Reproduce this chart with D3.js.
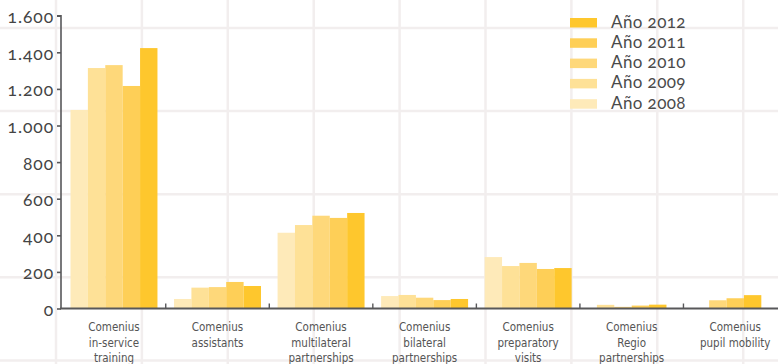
<!DOCTYPE html>
<html>
<head>
<meta charset="utf-8">
<script src="https://cdn.jsdelivr.net/npm/d3@7"></script>
<style>
  html, body { margin: 0; padding: 0; background: #ffffff; }
  svg { display: block; }
  .ylab { font-family: Lato, "Open Sans", sans-serif; font-size: 17.5px; fill: #444444; font-feature-settings: "onum" 1; letter-spacing: 0.9px; }
  .leg { font-family: Lato, "Open Sans", sans-serif; font-size: 17px; fill: #4a4a4a; font-feature-settings: "onum" 1; letter-spacing: 0.4px; }
  .xlab { font-family: "Liberation Sans Narrow", "DejaVu Sans Condensed", sans-serif; font-size: 11.5px; fill: #555555; }
</style>
</head>
<body>
<svg id="chart" width="778" height="364"></svg>
<script>
// ---- data ----
const categories = [
  ["Comenius", "in-service", "training"],
  ["Comenius", "assistants"],
  ["Comenius", "multilateral", "partnerships"],
  ["Comenius", "bilateral", "partnerships"],
  ["Comenius", "preparatory", "visits"],
  ["Comenius", "Regio", "partnerships"],
  ["Comenius", "pupil mobility"]
];
const seriesNames = ["Año 2008", "Año 2009", "Año 2010", "Año 2011", "Año 2012"];
const s2008 = [1085, 52, 414, 68, 281, null, null];
const s2009 = [1314, 114, 456, 74, 232, 20, null];
const s2010 = [1330, 117, 507, 59, 249, 9, 45];
const s2011 = [1216, 145, 495, 46, 216, 16, 56];
const s2012 = [1423, 123, 522, 52, 221, 21, 73];
const yTicks = [0, 200, 400, 600, 800, 1000, 1200, 1400, 1600];

const seriesValues = [s2008, s2009, s2010, s2011, s2012];
const colors = ["#feeab9", "#fee197", "#fed87a", "#fecf57", "#fec72d"];

// ---- layout ----
const svg = d3.select("#chart");
const W = 778, H = 364;

// background grid
const gridColor = "#f2eeee";
const bg = svg.append("g");
d3.range(56, W + 1, 85.9).forEach(x => {
  bg.append("line").attr("x1", x).attr("x2", x).attr("y1", 0).attr("y2", H)
    .attr("stroke", gridColor).attr("stroke-width", 2.5);
});
d3.range(28, H + 1, 83.1).forEach(y => {
  bg.append("line").attr("x1", 0).attr("x2", W).attr("y1", y).attr("y2", y)
    .attr("stroke", gridColor).attr("stroke-width", 2.5);
});

const y = d3.scaleLinear().domain([0, 1600]).range([308.5, 15.7]);
const x0 = d3.scaleBand().domain(d3.range(categories.length)).range([62.2, 787]).paddingInner(0).paddingOuter(0);
const barW = x0.bandwidth() * 0.168;

// bars
const bars = svg.append("g");
categories.forEach((c, i) => {
  const present = seriesValues.map((s, k) => ({k, v: s[i]})).filter(d => d.v != null);
  const cx = x0(i) + x0.bandwidth() / 2;
  const x1 = d3.scaleBand().domain(d3.range(present.length))
    .range([cx - present.length * barW / 2, cx + present.length * barW / 2]);
  bars.selectAll(null).data(present).enter().append("rect")
    .attr("x", (d, j) => x1(j))
    .attr("width", x1.bandwidth())
    .attr("y", d => y(d.v))
    .attr("height", d => y(0) - y(d.v))
    .attr("fill", d => colors[d.k]);
});

const axisColor = "#58585a";
const loc = d3.formatLocale({decimal: ",", thousands: ".", grouping: [3], currency: ["", "€"]});
const fmt = loc.format(",d");

// y axis
const yAxis = svg.append("g").attr("transform", "translate(61,0)")
  .call(d3.axisLeft(y).tickValues(yTicks).tickSize(4).tickPadding(3).tickFormat(fmt));
yAxis.select(".domain").attr("stroke", axisColor).attr("stroke-width", 1.6).attr("d", `M-4,${y(1600)}H0V${y(0)}`);
yAxis.selectAll(".tick line").attr("stroke", axisColor).attr("stroke-width", 1.6);
yAxis.selectAll(".tick text").attr("class", "ylab").attr("dy", "7px").attr("font-size", null).attr("font-family", null);

// x axis
const xAxis = svg.append("g").attr("transform", `translate(0,${y(0)})`);
xAxis.append("line").attr("x1", 60).attr("x2", W).attr("y1", 0).attr("y2", 0)
  .attr("stroke", axisColor).attr("stroke-width", 1.8);
xAxis.selectAll(".tk").data(d3.range(1, categories.length)).enter().append("line")
  .attr("x1", d => x0(d)).attr("x2", d => x0(d)).attr("y1", 0).attr("y2", -5)
  .attr("stroke", axisColor).attr("stroke-width", 1.4);
const xl = xAxis.selectAll(".xl").data(categories).enter().append("text")
  .attr("class", "xlab").attr("text-anchor", "middle")
  .attr("x", (d, i) => x0(i) + x0.bandwidth() / 2);
xl.selectAll("tspan").data(d => d).enter().append("tspan")
  .attr("x", function() { return this.parentNode.getAttribute("x"); })
  .attr("y", (d, j) => 22.5 + j * 15.5)
  .text(d => d);

// legend
const legend = svg.append("g").attr("transform", "translate(570,18)");
const legOrder = d3.range(seriesNames.length).reverse();
legOrder.forEach((k, r) => {
  const g = legend.append("g").attr("transform", `translate(0,${r * 20.3})`);
  g.append("rect").attr("width", 27).attr("height", 9.5).attr("fill", colors[k]);
  g.append("text").attr("class", "leg").attr("x", 41).attr("y", 9.5).text(seriesNames[k]);
});
</script>
</body>
</html>
